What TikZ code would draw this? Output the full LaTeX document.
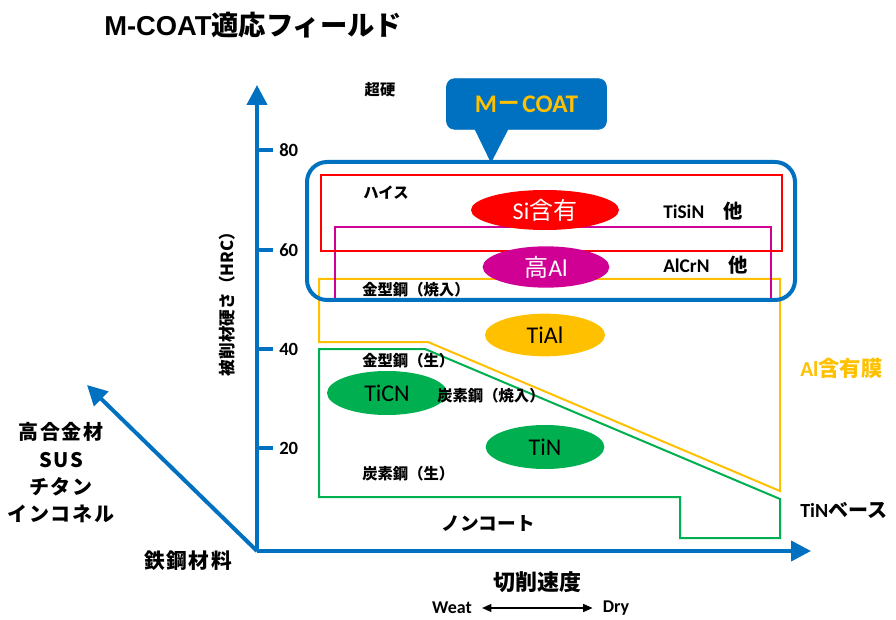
\documentclass[tikz,border=0pt]{standalone}
\usepackage{fontspec}
\setmainfont{Carlito}
\newfontfamily\jp{Noto Sans CJK JP}
\newfontfamily\jpsp{Noto Sans CJK JP}[LetterSpace=8]
\newfontfamily\arf{Liberation Sans}
\usetikzlibrary{arrows.meta,shapes.geometric,calc}
\definecolor{mblue}{RGB}{0,112,192}
\definecolor{mred}{RGB}{255,0,0}
\definecolor{mmag}{RGB}{208,0,148}
\definecolor{morange}{RGB}{255,192,0}
\definecolor{mgreen}{RGB}{0,176,80}
\tikzset{
  axisline/.style={mblue, line width=3pt, -{Triangle[length=15pt,width=15pt]}},
  tickline/.style={mblue, line width=3pt},
  ticklbl/.style={font=\bfseries\fontsize{14}{16}\selectfont, anchor=west, inner sep=0pt},
  smlbl/.style={font=\jp\bfseries\fontsize{11.5}{13}\selectfont, inner sep=0pt},
  midlbl/.style={font=\bfseries\fontsize{14.5}{16}\selectfont, inner sep=0pt},
  biglbl/.style={font=\jp\bfseries\fontsize{14}{16}\selectfont, inner sep=0pt},
  ell/.style={ellipse, inner sep=0pt, font=\fontsize{18}{20}\selectfont},
  framebox/.style={line width=1.5pt},
}
\begin{document}
\begin{tikzpicture}[x=0.75pt,y=-0.75pt]
\useasboundingbox (0,0) rectangle (896,620);

% title
\node[anchor=west, inner sep=0pt] (title) at (104,25) {\fontsize{20.5}{24}\selectfont{\arf\bfseries M-COAT}{\jp\bfseries 適応フィールド}};

% region shapes
\draw[morange, framebox] (319,279) -- (780,279) -- (780,491) -- (428,342) -- (319,342) -- cycle;
\draw[mgreen, framebox] (319,349) -- (425,349) -- (780,499) -- (780,538) -- (680,538) -- (680,497) -- (319,497) -- cycle;
\draw[mmag, framebox] (335,227) rectangle (771,299);
\draw[mred, framebox] (321,175) rectangle (782,251);
\draw[mblue, line width=3pt, rounded corners=15pt] (307,162) rectangle (795,300);

% callout
\node[fill=mblue, draw=mblue, rounded corners=6pt, minimum width=120pt, minimum height=38pt, inner sep=0pt,
      text=morange, font=\bfseries\fontsize{19}{22}\selectfont] (mcoat) at (526.5,104) {M{\jp\bfseries －}COAT};
\fill[mblue] (474,128) -- (491,163) -- (509,128) -- cycle;

% axes
\coordinate (O) at (257,551);
\coordinate (Ytop) at (257,85);
\coordinate (Xend) at (811,551);
\coordinate (Dend) at (87,385);
\draw[axisline] (O) -- (Ytop);
\draw[axisline] (O) -- (Xend);
\draw[axisline] (O) -- (Dend);

% ticks
\foreach \yy/\lab in {150/80, 250/60, 349/40, 448/20}{
  \draw[tickline] (257,\yy) -- (273,\yy);
  \node[ticklbl] at (279,\yy) {\lab};
}

% ellipses
\node[ell, fill=mred, text=white, minimum width=111pt, minimum height=30pt] (si) at (545,210) {Si{\jp 含有}};
\node[ell, fill=mmag, text=white, minimum width=95pt, minimum height=31pt] (hal) at (546,267) {{\jp 高}Al};
\node[ell, fill=morange, text=black, minimum width=90pt, minimum height=32pt] (tial) at (545,335) {TiAl};
\node[ell, fill=mgreen, text=black, minimum width=90pt, minimum height=33pt] (ticn) at (387,393) {TiCN};
\node[ell, fill=mgreen, text=black, minimum width=89pt, minimum height=33pt] (tin) at (545,447) {TiN};

% material labels
\node[smlbl] (chk) at (380,90) {超硬};
\node[smlbl] (hss) at (386,193) {ハイス};
\node[smlbl, anchor=west] (kq) at (362,290) {金型鋼（焼入）};
\node[smlbl, anchor=west] (kn) at (362,361) {金型鋼（生）};
\node[smlbl, anchor=west] (tq) at (437,396) {炭素鋼（焼入）};
\node[smlbl, anchor=west] (tn) at (362,474) {炭素鋼（生）};

\node[midlbl, anchor=west] (tisin) at (663,211) {TiSiN\hspace{1em}{\jp 他}};
\node[midlbl, anchor=west] (alcrn) at (663,265) {AlCrN\hspace{1em}{\jp 他}};

\node[inner sep=0pt, anchor=west, text=morange, font=\bfseries\fontsize{16}{18}\selectfont] (alf) at (800,368) {Al{\jp\bfseries 含有膜}};
\node[inner sep=0pt, anchor=west, font=\bfseries\fontsize{15}{17}\selectfont] (tinb) at (800,510) {TiN{\jp\bfseries ベース}};
\node[biglbl] (non) at (488,523) {ノンコート};

% axis labels
\node[rotate=90, inner sep=0pt, font=\jp\bfseries\fontsize{12.5}{14}\selectfont] (ylab) at (227,300) {被削材硬さ（HRC）};
\node[align=center, inner sep=0pt, font=\jpsp\bfseries\fontsize{15}{20.5}\selectfont] (alloy) at (61,473) {高合金材\\SUS\\チタン\\インコネル};
\node[biglbl, font=\jpsp\bfseries\fontsize{15.5}{17}\selectfont] (steel) at (188,561) {鉄鋼材料};
\node[biglbl, font=\jp\bfseries\fontsize{16.5}{18}\selectfont] (speed) at (537,582) {切削速度};

\node[inner sep=0pt, font=\bfseries\fontsize{13.5}{15}\selectfont] (weat) at (452,608) {Weat};
\node[inner sep=0pt, font=\bfseries\fontsize{13.5}{15}\selectfont] (dry) at (616,608) {Dry};
\draw[line width=0.9pt, {Triangle[length=7pt,width=6pt]}-{Triangle[length=7pt,width=6pt]}] ($(weat.east)+(10,0)$) coordinate (wa) -- ($(dry.west)+(-10,0)$) coordinate (da);
\end{tikzpicture}
\end{document}
